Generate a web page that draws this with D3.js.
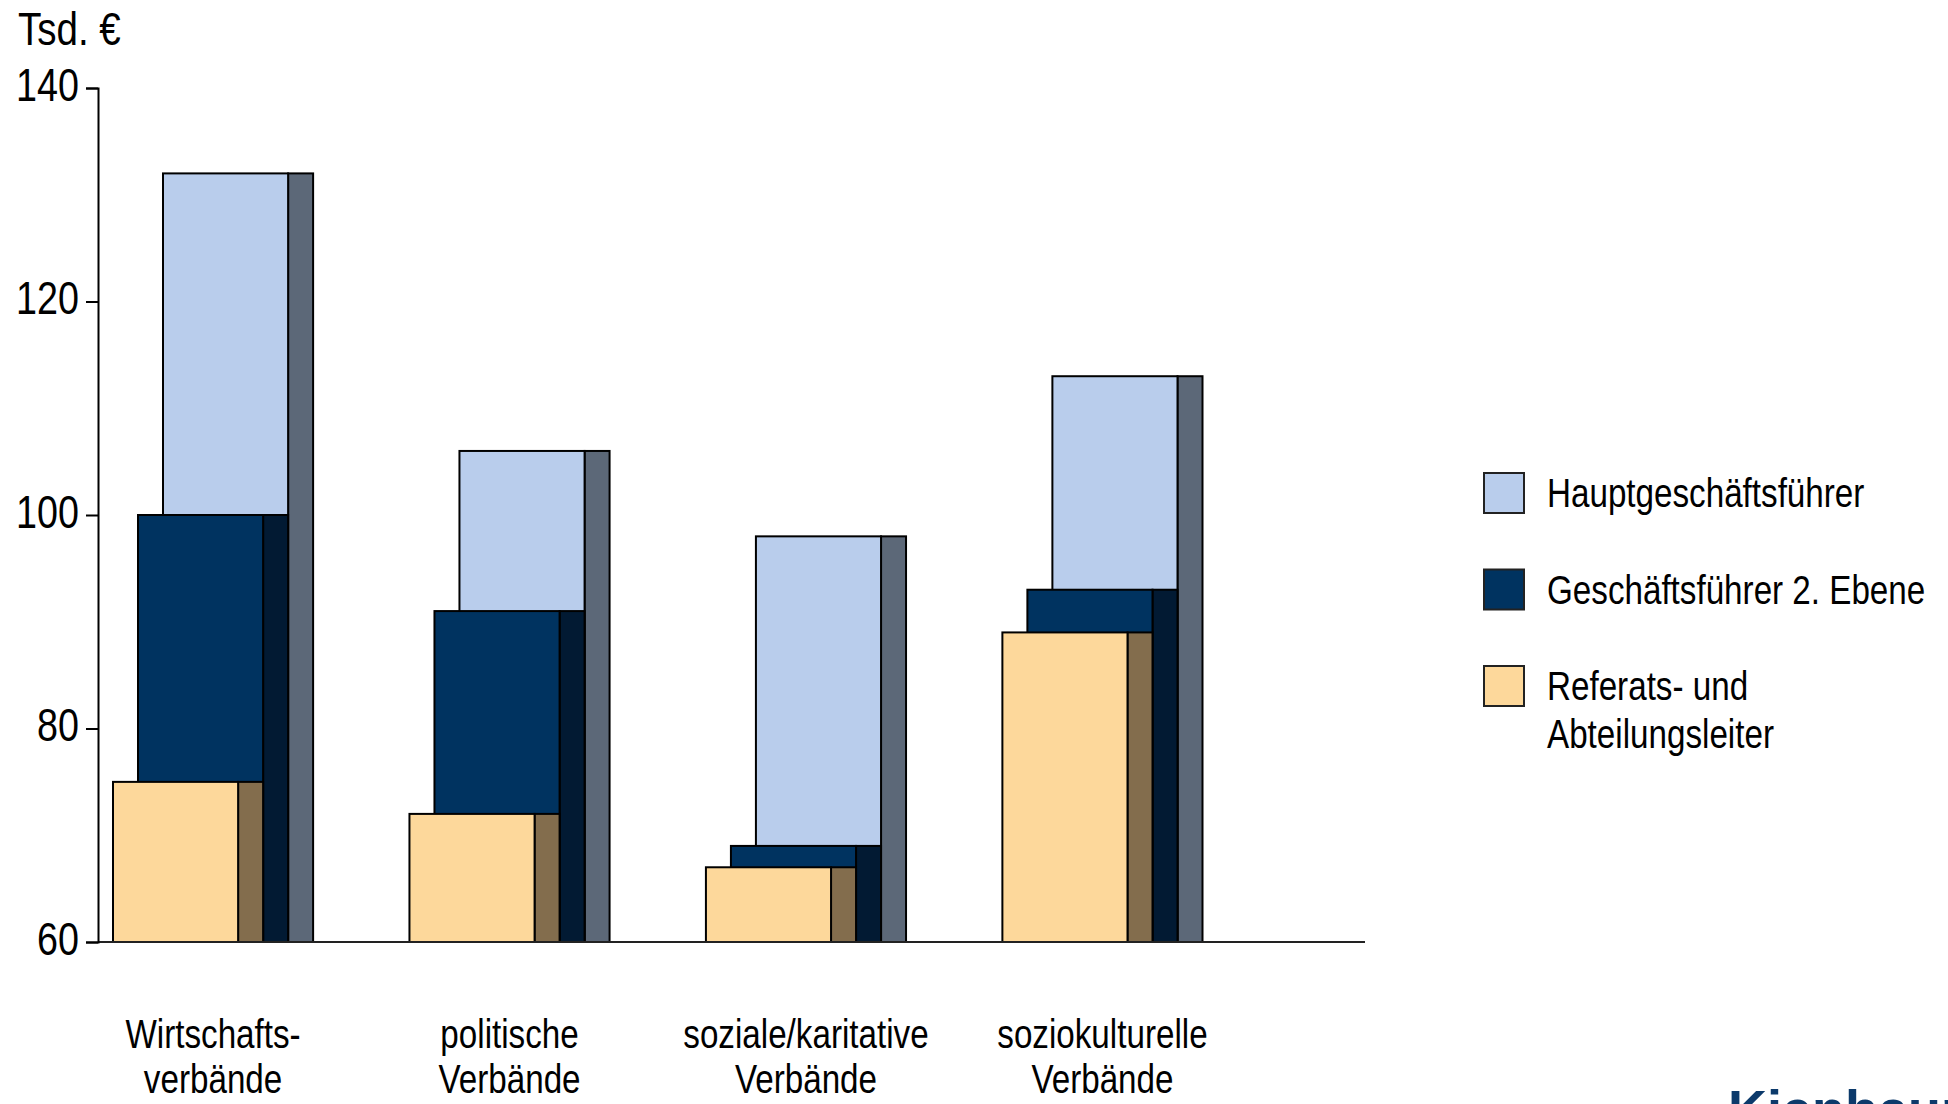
<!DOCTYPE html>
<html lang="de">
<head>
  <meta charset="utf-8">
  <title>Verbände – Gehälter</title>
  <script src="https://d3js.org/d3.v7.min.js"></script>
  <style>
    body { margin: 0; background: #fff; }
    svg text { font-family: "Liberation Sans", Arial, sans-serif; fill: #000; }
  </style>
</head>
<body>
<script>
  // Daten (Tsd. €)
  var kategorien = [["Wirtschafts-", "verbände"], ["politische", "Verbände"], ["soziale/karitative", "Verbände"], ["soziokulturelle", "Verbände"]];
  var reihen = ["Referats- und Abteilungsleiter", "Geschäftsführer 2. Ebene", "Hauptgeschäftsführer"];
  var referatsleiter = [75, 72, 67, 89];
  var gf2Ebene = [100, 91, 69, 93];
  var hauptGf = [132, 106, 98, 113];
  var yTicks = [60, 80, 100, 120, 140];

  var front = ["#fdd89b", "#003360", "#b9cdec"];
  var seite = ["#836d4d", "#021a33", "#5c6878"];

  var W = 1948, H = 1104;
  var svg = d3.select("body").append("svg").attr("width", W).attr("height", H);

  // schmale Schrift: Liberation Sans horizontal gestaucht (wie Arial Narrow)
  var sx = 0.82;
  function schmal(x0, y0, zeilen, opt) {
    opt = opt || {};
    var g = svg.append("g").attr("transform", "translate(" + x0 + "," + y0 + ") scale(" + sx + ",1)");
    var t = g.append("text").attr("font-size", opt.size || 44)
             .attr("text-anchor", opt.anchor || "start");
    zeilen.forEach(function(z, j) {
      t.append("tspan").attr("x", 0).attr("y", j * (opt.lh || 46)).attr("dy", opt.dy || 0).text(z);
    });
    return t;
  }

  var y = d3.scaleLinear().domain([60, 140]).range([942, 88]);
  var x = d3.scaleBand().domain(d3.range(kategorien.length))
            .range([113, 1202.5]).paddingInner(0.325).paddingOuter(0);
  var tiefe = 25;
  var versatz = d3.scaleLinear().domain([0, 1]).range([0, tiefe]);
  var breite = x.bandwidth() - 3 * tiefe;

  var werte = [referatsleiter, gf2Ebene, hauptGf];

  // Balken: hintere Reihe zuerst
  [2, 1, 0].forEach(function(s) {
    var g = svg.append("g");
    werte[s].forEach(function(v, i) {
      var x0 = x(i) + versatz(s);
      g.append("rect")
        .attr("x", x0 + breite).attr("y", y(v))
        .attr("width", tiefe).attr("height", y(60) - y(v))
        .attr("fill", seite[s]).attr("stroke", "#000").attr("stroke-width", 2);
      g.append("rect")
        .attr("x", x0).attr("y", y(v))
        .attr("width", breite).attr("height", y(60) - y(v))
        .attr("fill", front[s]).attr("stroke", "#000").attr("stroke-width", 2);
    });
  });

  // Achsen
  svg.append("line").attr("x1", 98).attr("x2", 1365).attr("y1", y(60)).attr("y2", y(60))
     .attr("stroke", "#222").attr("stroke-width", 2);
  var yAxis = svg.append("g").attr("transform", "translate(98,0)")
     .call(d3.axisLeft(y).tickValues(yTicks).tickSize(12).tickFormat(""));
  yAxis.select(".domain").attr("stroke", "#000").attr("stroke-width", 2);
  yAxis.selectAll(".tick line").attr("stroke", "#000").attr("stroke-width", 2);
  yTicks.forEach(function(v) {
    schmal(79, y(v), [String(v)], {size: 46, anchor: "end", dy: "0.28em"});
  });

  schmal(18, 45, ["Tsd. €"], {size: 47});

  // Kategorien
  kategorien.forEach(function(k, i) {
    schmal(x(i) + x.bandwidth() / 2, 1048, k, {size: 40.5, anchor: "middle", lh: 45});
  });

  // Legende
  var legende = [[2, ["Hauptgeschäftsführer"]], [1, ["Geschäftsführer 2. Ebene"]], [0, ["Referats- und", "Abteilungsleiter"]]];
  legende.forEach(function(l, i) {
    var ly = 473 + i * 96.5;
    svg.append("rect").attr("x", 1484).attr("y", ly).attr("width", 40).attr("height", 40)
       .attr("fill", front[l[0]]).attr("stroke", "#222").attr("stroke-width", 2);
    schmal(1547, ly + 34, l[1], {size: 40.5, lh: 48});
  });

  // Logo (vom Bildrand abgeschnitten)
  svg.append("text").attr("x", 1728).attr("y", 1128).attr("font-size", 54)
     .attr("font-weight", "bold").style("fill", "#0c3a6b").text("Kienbaum");
</script>
</body>
</html>
